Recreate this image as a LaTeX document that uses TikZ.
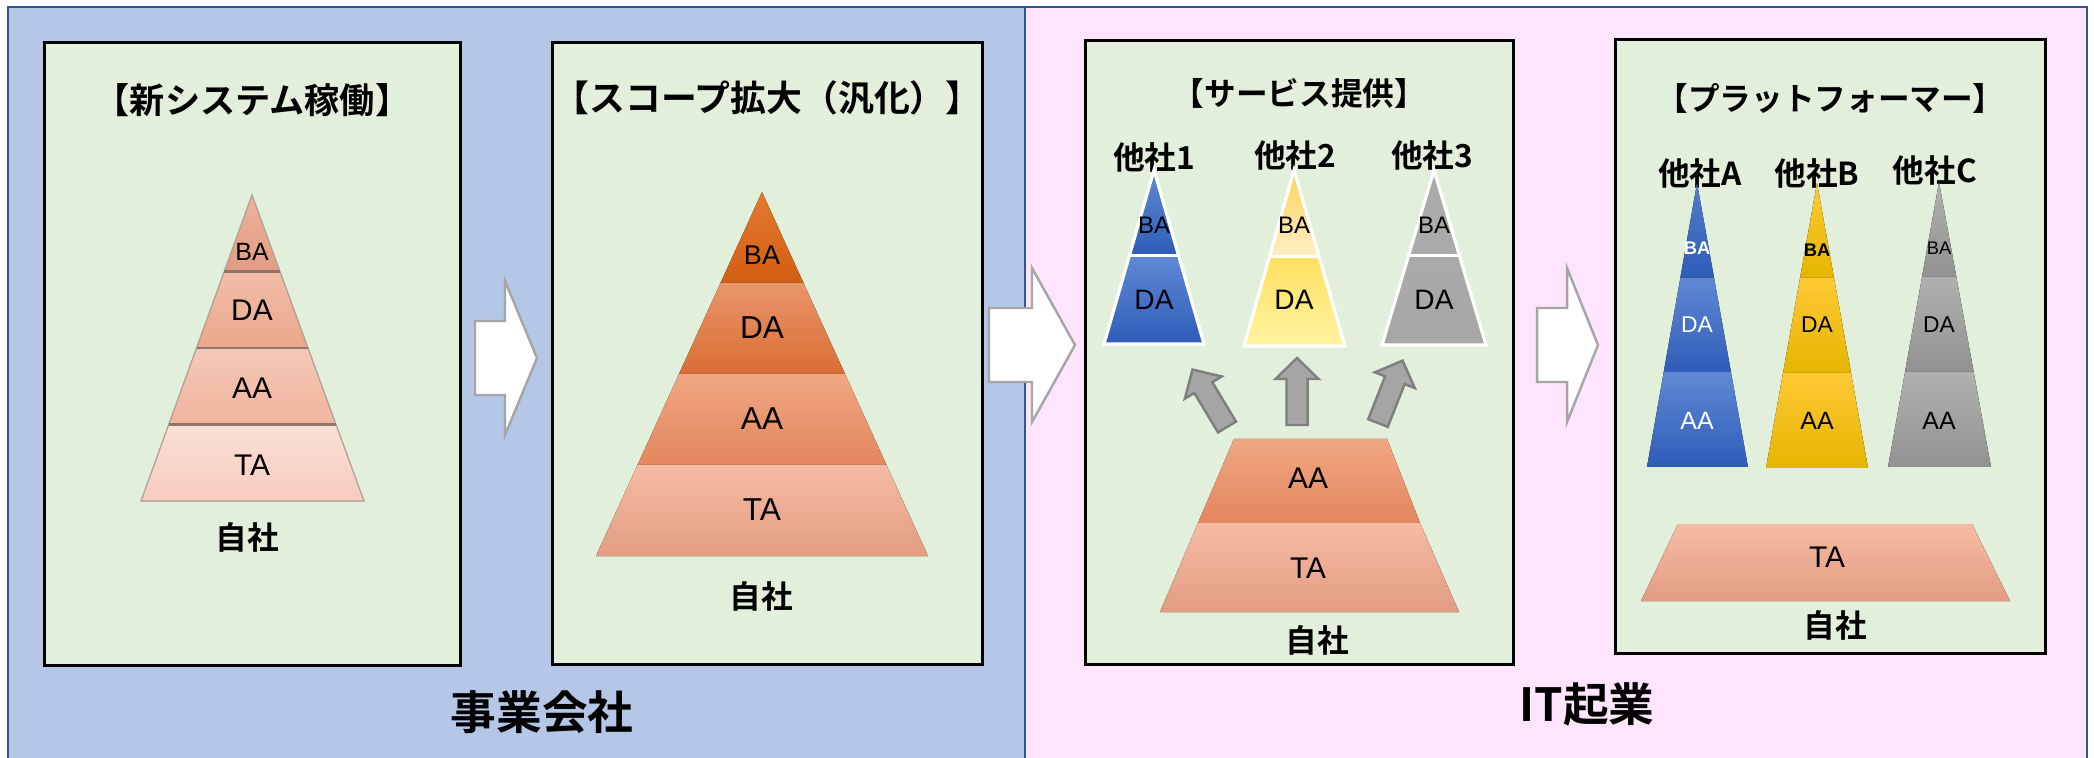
\documentclass[tikz,border=0pt]{standalone}
\usepackage{fontspec}
\usetikzlibrary{positioning, calc}

\IfFontExistsTF{Noto Sans CJK JP Bold}
  {\newfontfamily\jpfont{Noto Sans CJK JP Bold}}
  {\newfontfamily\jpfont{Noto Sans CJK JP}[FakeBold=2]}
\newfontfamily\latfont{Liberation Sans}

\definecolor{bizbg}{HTML}{B4C7E7}
\definecolor{startupbg}{HTML}{FFE4FD}
\definecolor{edgeblue}{HTML}{2F5597}
\definecolor{panelbg}{HTML}{E2EFDA}
\definecolor{bigarrowedge}{HTML}{A6A6A6}
\definecolor{smallarrowfill}{HTML}{A5A5A5}
\definecolor{smallarrowedge}{HTML}{7F7F7F}
% own company, first stage
\definecolor{ownBAt}{HTML}{EDB19A}
\definecolor{ownBAb}{HTML}{E49C83}
\definecolor{ownDAt}{HTML}{F2BDA9}
\definecolor{ownDAb}{HTML}{EBA68C}
\definecolor{ownAAt}{HTML}{F5C8B6}
\definecolor{ownAAb}{HTML}{F0B49E}
\definecolor{ownTAt}{HTML}{FADFD5}
\definecolor{ownTAb}{HTML}{F7CCBE}
\definecolor{ownline}{HTML}{8F766C}
% own company, later stages
\definecolor{wideBAt}{HTML}{E4792F}
\definecolor{wideBAb}{HTML}{D25E12}
\definecolor{wideDAt}{HTML}{E9966B}
\definecolor{wideDAb}{HTML}{DA6C33}
\definecolor{wideAAt}{HTML}{F1A783}
\definecolor{wideAAb}{HTML}{E3865D}
\definecolor{wideTAt}{HTML}{F6BBA3}
\definecolor{wideTAb}{HTML}{E29C82}
% other companies
\definecolor{blueT}{HTML}{6089D4}
\definecolor{blueB}{HTML}{2E5CB8}
\definecolor{yelBAt}{HTML}{FFD25A}
\definecolor{yelBAb}{HTML}{FFEEC6}
\definecolor{yelDAt}{HTML}{FFE060}
\definecolor{yelDAb}{HTML}{FFF4A0}
\definecolor{goldT}{HTML}{FFC935}
\definecolor{goldB}{HTML}{E4B500}
\definecolor{greyT}{HTML}{B0B0B0}
\definecolor{greyB}{HTML}{929292}

\newcommand{\pyrlayer}[6]{%
  \fill[#6] ($(#1)!#4!(#2)$) -- ($(#1)!#4!(#3)$) -- ($(#1)!#5!(#3)$) -- ($(#1)!#5!(#2)$) -- cycle;}

\begin{document}
\begin{tikzpicture}[
    x=0.01cm, y=-0.01cm,
    on grid,
    panel/.style={draw=black, line width=0.8pt, fill=panelbg, inner sep=0pt, anchor=north west},
    title/.style={font=\jpfont\fontsize{#1}{12}\selectfont, inner sep=0pt},
    title/.default=9,
    owner/.style={font=\jpfont\fontsize{9}{11}\selectfont, inner sep=0pt},
    group/.style={font=\jpfont\fontsize{13}{15}\selectfont, inner sep=0pt},
    lab/.style={font=\latfont\fontsize{#1}{10}\selectfont, inner sep=0pt},
    lab/.default=8.5,
    boldlab/.style={font=\latfont\bfseries\fontsize{#1}{10}\selectfont, inner sep=0pt},
    grad/.style 2 args={top color=#1, bottom color=#2},
    bigarrowline/.style={draw=bigarrowedge, line width=0.7pt, fill=white},
    smallarrowline/.style={draw=smallarrowedge, line width=0.7pt, fill=smallarrowfill},
    pics/bigarrow/.style 2 args={code={
        \draw[bigarrowline] (-#1,-37) -- (-#2,-37) -- (-#2,-77) -- (0,0)
          -- (-#2,77) -- (-#2,37) -- (-#1,37) -- cycle;}},
    pics/uparrow/.style={code={
        \draw[smallarrowline] (-10.5,0) -- (-10.5,-46) -- (-21.5,-46) -- (0,-67)
          -- (21.5,-46) -- (10.5,-46) -- (10.5,0) -- cycle;}}
  ]
  % Background
  \clip (0,0) rectangle (2094,758);
  \fill[white] (0,0) rectangle (2094,758);
  \fill[bizbg] (8,7) rectangle (1025,770);
  \fill[startupbg] (1025,7) rectangle (2087,770);
  \draw[edgeblue, line width=0.6pt] (8,770) -- (8,7) -- (2087,7) -- (2087,770);
  \draw[edgeblue, line width=0.6pt] (1025,7) -- (1025,770);

  % Panels
  \node[panel, minimum width=4.16cm, minimum height=6.23cm] (p1) at (43,41) {};
  \node[panel, minimum width=4.30cm, minimum height=6.22cm] (p2) at (551,41) {};
  \node[panel, minimum width=4.28cm, minimum height=6.24cm] (p3) at (1084,39) {};
  \node[panel, minimum width=4.30cm, minimum height=6.14cm] (p4) at (1614,38) {};

  \node[title=10, below=0.42cm of p1.north] (p1title) {【新システム稼働】};
  \node[title=10.2, below=0.39cm of p2.north] (p2title) {【スコープ拡大（汎化）】};
  \node[title, below=0.39cm of p3.north] (p3title) {【サービス提供】};
  \node[title, below=0.45cm of p4.north] (p4title) {【プラットフォーマー】};

  % Stage 1
  \coordinate (s1top) at (252,195);
  \coordinate (s1left) at (141,501);
  \coordinate (s1right) at (364,501);
  \pyrlayer{s1top}{s1left}{s1right}{0}{0.25}{grad={ownBAt}{ownBAb}}
  \pyrlayer{s1top}{s1left}{s1right}{0.25}{0.5}{grad={ownDAt}{ownDAb}}
  \pyrlayer{s1top}{s1left}{s1right}{0.5}{0.75}{grad={ownAAt}{ownAAb}}
  \pyrlayer{s1top}{s1left}{s1right}{0.75}{1}{grad={ownTAt}{ownTAb}}
  \draw[ownline!70, line width=0.35pt] (s1top) -- (s1left) -- (s1right) -- cycle;
  \foreach \f in {0.25,0.5,0.75}
    \draw[ownline, line width=0.8pt] ($(s1top)!\f!(s1left)$) -- ($(s1top)!\f!(s1right)$);
  \node[lab=7.1] (s1ba) at (252,252) {BA};
  \node[lab] (s1da) at (252,310) {DA};
  \node[lab] (s1aa) at (252,388) {AA};
  \node[lab] (s1ta) at (252,465) {TA};
  \node[owner] (s1own) at (247,537) {自社};

  % Stage 2
  \coordinate (s2top) at (762,192);
  \coordinate (s2left) at (596,556);
  \coordinate (s2right) at (928,556);
  \pyrlayer{s2top}{s2left}{s2right}{0}{0.25}{grad={wideBAt}{wideBAb}}
  \pyrlayer{s2top}{s2left}{s2right}{0.25}{0.5}{grad={wideDAt}{wideDAb}}
  \pyrlayer{s2top}{s2left}{s2right}{0.5}{0.75}{grad={wideAAt}{wideAAb}}
  \pyrlayer{s2top}{s2left}{s2right}{0.75}{1}{grad={wideTAt}{wideTAb}}
  \node[lab=7.7] (s2ba) at (762,255) {BA};
  \node[lab=9] (s2da) at (762,328) {DA};
  \node[lab=9] (s2aa) at (762,419) {AA};
  \node[lab=9] (s2ta) at (762,510) {TA};
  \node[owner] (s2own) at (761,596) {自社};

  % Stage 3
  \node[owner] (o1name) at (1154,157) {他社1};
  \node[owner] (o2name) at (1295,155) {他社2};
  \node[owner] (o3name) at (1432,155) {他社3};
  \coordinate (o1top) at (1154,170);
  \coordinate (o1left) at (1104,344);
  \coordinate (o1right) at (1204,344);
  \coordinate (o2top) at (1294,170);
  \coordinate (o2left) at (1244,346);
  \coordinate (o2right) at (1345,346);
  \coordinate (o3top) at (1434,170);
  \coordinate (o3left) at (1382,345);
  \coordinate (o3right) at (1486,345);
  \pyrlayer{o1top}{o1left}{o1right}{0}{0.49}{grad={blueT}{blueB}}
  \pyrlayer{o1top}{o1left}{o1right}{0.49}{1}{grad={blueT}{blueB}}
  \pyrlayer{o2top}{o2left}{o2right}{0}{0.49}{grad={yelBAt}{yelBAb}}
  \pyrlayer{o2top}{o2left}{o2right}{0.49}{1}{grad={yelDAt}{yelDAb}}
  \pyrlayer{o3top}{o3left}{o3right}{0}{0.49}{grad={greyT!80!greyB}{greyT!80!greyB}}
  \pyrlayer{o3top}{o3left}{o3right}{0.49}{1}{grad={greyT!80!greyB}{greyT!70!greyB}}
  \foreach \o in {o1,o2,o3} {
    \draw[white, line width=0.9pt] (\o top) -- (\o left) -- (\o right) -- cycle;
    \draw[white, line width=0.9pt] ($(\o top)!0.49!(\o left)$) -- ($(\o top)!0.49!(\o right)$);
  }
  \node[lab=6.8] (o1ba) at (1154,225) {BA};
  \node[lab=8] (o1da) at (1154,300) {DA};
  \node[lab=6.8] (o2ba) at (1294,225) {BA};
  \node[lab=8] (o2da) at (1294,300) {DA};
  \node[lab=6.8] (o3ba) at (1434,225) {BA};
  \node[lab=8] (o3da) at (1434,300) {DA};

  \pic at (1227,427) [rotate=31] {uparrow};
  \pic at (1297,425) {uparrow};
  \pic at (1378,423) [rotate=-21.5] {uparrow};

  \fill[grad={wideAAt}{wideAAb}] (1234,439) -- (1387,439) -- (1420,523) -- (1198,523) -- cycle;
  \fill[grad={wideTAt}{wideTAb}] (1198,523) -- (1420,523) -- (1459,612) -- (1160,612) -- cycle;
  \node[lab] (s3aa) at (1308,478) {AA};
  \node[lab] (s3ta) at (1308,568) {TA};
  \node[owner] (s3own) at (1317,640) {自社};

  % Stage 4
  \node[owner] (paname) at (1700,173) {他社A};
  \node[owner] (pbname) at (1817,173) {他社B};
  \node[owner] (pcname) at (1935,170) {他社C};
  \coordinate (patop) at (1697,183);
  \coordinate (paleft) at (1647,467);
  \coordinate (paright) at (1748,467);
  \coordinate (pbtop) at (1817,183);
  \coordinate (pbleft) at (1766,468);
  \coordinate (pbright) at (1868,468);
  \coordinate (pctop) at (1939,182);
  \coordinate (pcleft) at (1888,467);
  \coordinate (pcright) at (1991,467);
  \pyrlayer{patop}{paleft}{paright}{0}{0.333}{grad={blueT!70!blueB}{blueB}}
  \pyrlayer{patop}{paleft}{paright}{0.333}{0.666}{grad={blueT}{blueB}}
  \pyrlayer{patop}{paleft}{paright}{0.666}{1}{grad={blueT}{blueB}}
  \pyrlayer{pbtop}{pbleft}{pbright}{0}{0.333}{grad={goldT}{goldB}}
  \pyrlayer{pbtop}{pbleft}{pbright}{0.333}{0.666}{grad={goldT}{goldB}}
  \pyrlayer{pbtop}{pbleft}{pbright}{0.666}{1}{grad={goldT}{goldB}}
  \pyrlayer{pctop}{pcleft}{pcright}{0}{0.333}{grad={greyT}{greyB}}
  \pyrlayer{pctop}{pcleft}{pcright}{0.333}{0.666}{grad={greyT}{greyB}}
  \pyrlayer{pctop}{pcleft}{pcright}{0.666}{1}{grad={greyT}{greyB}}
  \node[boldlab=5.2, text=white] (paba) at (1697,248) {BA};
  \node[lab=6.5, text=white] (pada) at (1697,325) {DA};
  \node[lab=7.1, text=white] (paaa) at (1697,421) {AA};
  \node[boldlab=5.2] (pbba) at (1817,250) {BA};
  \node[lab=6.5] (pbda) at (1817,325) {DA};
  \node[lab=7.1] (pbaa) at (1817,421) {AA};
  \node[lab=5.2] (pcba) at (1939,248) {BA};
  \node[lab=6.5] (pcda) at (1939,325) {DA};
  \node[lab=7.1] (pcaa) at (1939,421) {AA};

  \fill[grad={wideTAt}{wideTAb}] (1678,524) -- (1972,524) -- (2010,601) -- (1641,601) -- cycle;
  \node[lab] (s4ta) at (1827,557) {TA};
  \node[owner] (s4own) at (1835,625) {自社};

  % Arrows between stages
  \pic at (537,358) {bigarrow={62}{32}};
  \pic at (1075,345) {bigarrow={86}{43}};
  \pic at (1598,345) {bigarrow={61}{31}};

  % Groups
  \node[group] (bizlabel) at (542,712) {事業会社};
  \node[group] (itlabel) at (1587,704) {IT起業};
\end{tikzpicture}
\end{document}
